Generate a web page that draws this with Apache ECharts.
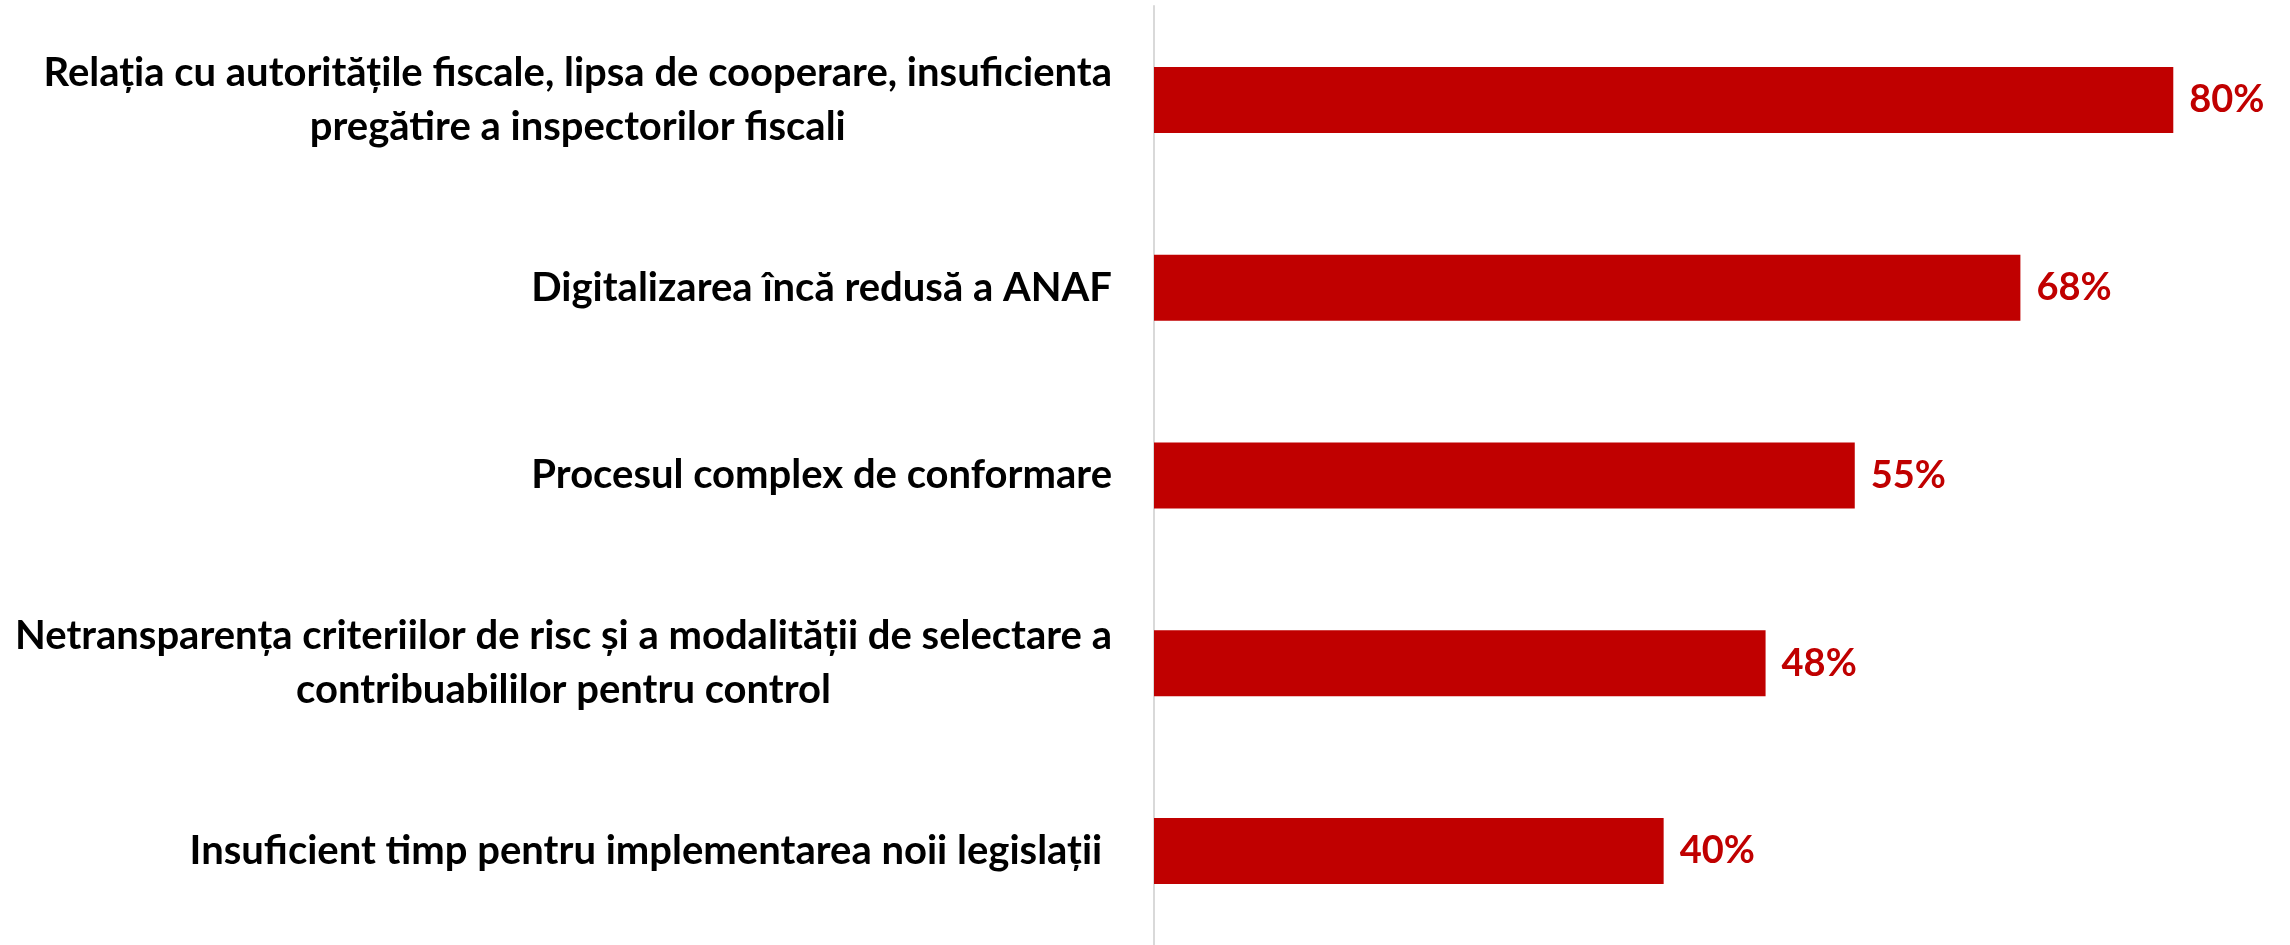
<!DOCTYPE html>
<html>
<head>
<meta charset="utf-8">
<script src="https://cdn.jsdelivr.net/npm/echarts@6/dist/echarts.min.js"></script>
<style>
  html, body { margin: 0; padding: 0; background: #fff; }
  #chart { width: 2290px; height: 945px; }
</style>
</head>
<body>
<div id="chart"></div>
<script>
// categories, top to bottom
const categories = [
  'Relația cu autoritățile fiscale, lipsa de cooperare, insuficienta\npregătire a inspectorilor fiscali',
  'Digitalizarea încă redusă a ANAF',
  'Procesul complex de conformare',
  'Netransparența criteriilor de risc și a modalității de selectare a\ncontribuabililor pentru control',
  'Insuficient timp pentru implementarea noii legislații '
];
const values = [80, 68, 55, 48, 40];

const red = '#C00000';
const font = 'Lato';

let myChart = echarts.init(document.getElementById('chart'));
myChart.setOption({
  backgroundColor: '#fff',
  animation: false,
  grid: { left: 1154, right: 53, top: 6, bottom: -5, containLabel: false },
  xAxis: {
    type: 'value',
    min: 0,
    max: 85,
    show: false
  },
  yAxis: {
    type: 'category',
    inverse: true,
    data: categories,
    axisLine: { show: true, lineStyle: { color: '#d9d9d9', width: 2 } },
    axisTick: { show: false },
    axisLabel: {
      margin: 42,
      align: 'right',
      // center every line inside the label block
      formatter: function (v) {
        return v.split('\n').map(l => '{c|' + l + '}').join('\n');
      },
      rich: {
        c: {
          align: 'center',
          fontFamily: font,
          fontWeight: 'bold',
          fontSize: 40,
          lineHeight: 54,
          color: '#000'
        }
      }
    }
  },
  series: [{
    type: 'bar',
    data: values,
    barWidth: 66,
    itemStyle: { color: red },
    label: {
      show: true,
      position: 'right',
      distance: 16,
      formatter: '{c}%',
      fontFamily: font,
      fontWeight: 'bold',
      fontSize: 38,
      color: red
    }
  }]
});
</script>
</body>
</html>
